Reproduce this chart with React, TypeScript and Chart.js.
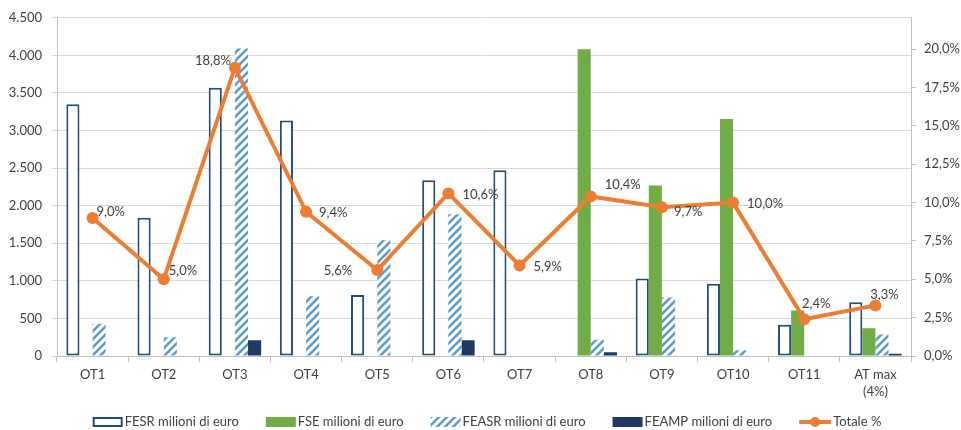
import React, { useEffect, useRef } from 'react';
import { Chart, registerables } from 'chart.js';

Chart.register(...registerables);

// ---- data ----
const categories: (string | string[])[] = ['OT1', 'OT2', 'OT3', 'OT4', 'OT5', 'OT6', 'OT7', 'OT8', 'OT9', 'OT10', 'OT11', ['AT max', '(4%)']];
const fesr = [3350, 1840, 3570, 3135, 810, 2340, 2470, null, 1030, 960, 415, 715];
const fse = [null, null, null, null, null, null, null, 4080, 2270, 3155, 605, 370];
const feasr = [430, 250, 4090, 795, 1540, 1885, null, 215, 780, 75, null, 285];
const feamp = [null, null, 210, 8, null, 210, null, 50, null, null, null, 30];
const totale = [9.0, 5.0, 18.8, 9.4, 5.6, 10.6, 5.9, 10.4, 9.7, 10.0, 2.4, 3.3];
const seriesNames = ['FESR milioni di euro', 'FSE milioni di euro', 'FEASR milioni di euro', 'FEAMP milioni di euro', 'Totale %'];
const leftMax = 4500;
const leftStep = 500;
const rightMax = 22.05;
const rightStep = 2.5;

// ---- label placement (styling only) ----
const labelPlacement: [number, number, CanvasTextAlign][] = [
  [4, -6, 'left'], [5, -8, 'left'], [-4, -7, 'right'], [13, 1, 'left'],
  [-25, 1, 'right'], [14, 1, 'left'], [14, 1, 'left'], [14, -12, 'left'],
  [12, 5, 'left'], [14, 1, 'left'], [12, -15, 'center'], [9, -11, 'center'],
];

const FONT = 'Lato';
const TEXT = '#404040';
const C_FESR = '#1F4E79';
const C_FSE = '#70AD47';
const C_FEASR = '#5B9BD5';
const C_FEAMP = '#203864';
const C_LINE = '#ED7D31';

function makeHatch(): CanvasPattern | string {
  const c = document.createElement('canvas');
  c.width = 8; c.height = 8;
  const g = c.getContext('2d');
  if (!g) return C_FEASR;
  g.fillStyle = '#ffffff';
  g.fillRect(0, 0, 8, 8);
  g.strokeStyle = C_FEASR;
  g.lineWidth = 2.6;
  g.beginPath();
  g.moveTo(-1, 9); g.lineTo(9, -1);
  g.moveTo(-3, 3); g.lineTo(3, -3);
  g.moveTo(5, 11); g.lineTo(11, 5);
  g.stroke();
  const p = g.createPattern(c, 'repeat');
  return p || C_FEASR;
}

const fmtThousands = (v: number) => String(Math.round(v)).replace(/\B(?=(\d{3})+(?!\d))/g, '.');
const fmtPct = (v: number) => v.toFixed(1).replace('.', ',') + '%';

export default function App() {
  const ref = useRef<HTMLCanvasElement | null>(null);

  useEffect(() => {
    document.body.style.margin = '0';
    const canvas = ref.current;
    if (!canvas) return;
    const hatch = makeHatch();

    const pointLabels = {
      id: 'pointLabels',
      afterDatasetsDraw(chart: any) {
        const ctx = chart.ctx;
        const meta = chart.getDatasetMeta(4);
        ctx.save();
        ctx.font = `13px ${FONT}`;
        ctx.fillStyle = TEXT;
        ctx.textBaseline = 'middle';
        meta.data.forEach((pt: any, i: number) => {
          const [dx, dy, al] = labelPlacement[i];
          ctx.textAlign = al;
          ctx.fillText(fmtPct(totale[i]), pt.x + dx, pt.y + dy);
        });
        ctx.restore();
      },
    };

    const customLegend = {
      id: 'customLegend',
      afterDraw(chart: any) {
        const ctx = chart.ctx;
        ctx.save();
        ctx.font = `13px ${FONT}`;
        const boxW = 30;
        const gapText = 2;
        const gapItem = 27;
        const widths = seriesNames.map((n, i) => (i === 4 ? 32 : boxW) + gapText + ctx.measureText(n).width);
        const total = widths.reduce((a, b) => a + b, 0) + gapItem * (widths.length - 1);
        let x = 487 - total / 2;
        const y = 422;
        seriesNames.forEach((name, i) => {
          if (i === 0) {
            ctx.fillStyle = '#fff';
            ctx.fillRect(x, y - 5, boxW, 10);
            ctx.strokeStyle = C_FESR;
            ctx.lineWidth = 2;
            ctx.strokeRect(x + 1, y - 4, boxW - 2, 8);
          } else if (i === 1) {
            ctx.fillStyle = C_FSE;
            ctx.fillRect(x, y - 5, boxW, 10);
          } else if (i === 2) {
            ctx.fillStyle = hatch as any;
            ctx.fillRect(x, y - 5, boxW, 10);
          } else if (i === 3) {
            ctx.fillStyle = C_FEAMP;
            ctx.fillRect(x, y - 5, boxW, 10);
          } else {
            ctx.strokeStyle = C_LINE;
            ctx.lineWidth = 4;
            ctx.beginPath();
            ctx.moveTo(x, y);
            ctx.lineTo(x + 32, y);
            ctx.stroke();
            ctx.fillStyle = C_LINE;
            ctx.beginPath();
            ctx.arc(x + 16, y, 5, 0, Math.PI * 2);
            ctx.fill();
          }
          const iw = i === 4 ? 32 : boxW;
          ctx.fillStyle = TEXT;
          ctx.textAlign = 'left';
          ctx.textBaseline = 'middle';
          ctx.fillText(name, x + iw + gapText, y);
          x += widths[i] + gapItem;
        });
        ctx.restore();
      },
    };

    const barCommon = { categoryPercentage: 0.737, barPercentage: 1, order: 1, yAxisID: 'y' };

    const chart = new Chart(canvas, {
      type: 'bar',
      data: {
        labels: categories as any,
        datasets: [
          { ...barCommon, label: seriesNames[0], data: fesr as any, backgroundColor: '#ffffff', borderColor: C_FESR, borderWidth: 2, borderSkipped: false },
          { ...barCommon, label: seriesNames[1], data: fse as any, backgroundColor: C_FSE, borderWidth: 0 },
          { ...barCommon, label: seriesNames[2], data: feasr as any, backgroundColor: hatch as any, borderWidth: 0 },
          { ...barCommon, label: seriesNames[3], data: feamp as any, backgroundColor: C_FEAMP, borderWidth: 0 },
          {
            type: 'line', label: seriesNames[4], data: totale, yAxisID: 'y1', order: 0,
            borderColor: C_LINE, backgroundColor: C_LINE, borderWidth: 4,
            pointRadius: 6, pointBackgroundColor: C_LINE, pointBorderWidth: 0, tension: 0,
          } as any,
        ],
      },
      options: {
        animation: false,
        responsive: false,
        maintainAspectRatio: false,
        events: [],
        layout: { padding: { top: 16, bottom: 30, left: 0, right: 0 } },
        plugins: { legend: { display: false }, tooltip: { enabled: false } },
        scales: {
          x: {
            grid: { display: true, drawOnChartArea: false, drawTicks: true, tickLength: 6, color: '#BFBFBF', offset: true },
            border: { display: true, color: '#BFBFBF' },
            ticks: { color: TEXT, font: { family: FONT, size: 13, lineHeight: 1.3 }, padding: 4, maxRotation: 0, autoSkip: false },
            afterFit: (s: any) => { s.height = 44; },
          },
          y: {
            position: 'left',
            min: 0, max: leftMax,
            grid: { color: '#D9D9D9', lineWidth: 1, tickLength: 5, drawTicks: true },
            border: { display: true, color: '#BFBFBF' },
            ticks: { stepSize: leftStep, color: TEXT, font: { family: FONT, size: 13 }, padding: 10, callback: (v: any) => fmtThousands(Number(v)) },
            afterFit: (s: any) => { s.width = 57; },
          },
          y1: {
            position: 'right',
            min: 0, max: rightMax,
            grid: { drawOnChartArea: false, tickLength: 5, color: '#BFBFBF' },
            border: { display: true, color: '#BFBFBF' },
            ticks: { stepSize: rightStep, color: TEXT, font: { family: FONT, size: 13 }, padding: 8, callback: (v: any) => fmtPct(Number(v)) },
            afterBuildTicks: (s: any) => {
              s.ticks = s.ticks.filter((t: any) => Math.abs(t.value / rightStep - Math.round(t.value / rightStep)) < 1e-6);
            },
            afterFit: (s: any) => { s.width = 50; },
          },
        },
      } as any,
      plugins: [pointLabels, customLegend],
    });

    return () => chart.destroy();
  }, []);

  return (
    <div style={{ width: 961, height: 430, background: '#fff' }}>
      <canvas ref={ref} width={961} height={430} style={{ display: 'block', width: 961, height: 430 }} />
    </div>
  );
}
